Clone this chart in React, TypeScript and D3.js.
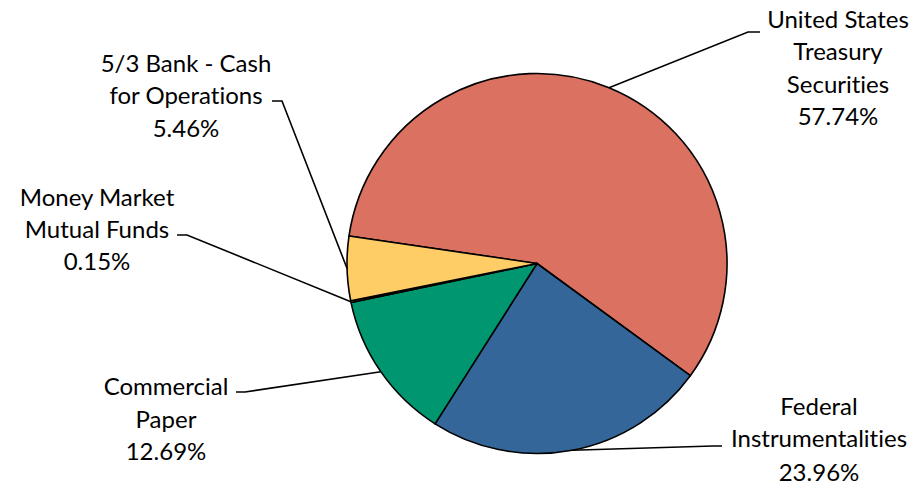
import * as d3 from "d3";
import React from "react";

// slice data, in drawing order (clockwise)
const categories = [
  "United States Treasury Securities",
  "Federal Instrumentalities",
  "Commercial Paper",
  "Money Market Mutual Funds",
  "5/3 Bank - Cash for Operations",
];
const values = [57.74, 23.96, 12.69, 0.15, 5.46];
const labelLines = [
  ["United States", "Treasury", "Securities", "57.74%"],
  ["Federal", "Instrumentalities", "23.96%"],
  ["Commercial", "Paper", "12.69%"],
  ["Money Market", "Mutual Funds", "0.15%"],
  ["5/3 Bank - Cash", "for Operations", "5.46%"],
];
const colors = ["#DA7161", "#346699", "#009670", "#E8A23A", "#FFCD66"];

// label layout (positions only)
const labelLayout = [
  { x: 838, ys: [18, 50, 83, 115], elbow: [[748, 32], [760, 32]] },
  { x: 819, ys: [405, 437, 471], elbow: [[713, 446], [722, 446]] },
  { x: 166, ys: [385, 418, 450], elbow: [[245, 392], [236, 392]] },
  { x: 97, ys: [196, 228, 260], elbow: [[187, 235], [177, 235]] },
  { x: 186, ys: [62, 94, 127], elbow: [[282, 101], [272, 101]] },
];

const W = 915;
const H = 484;
const cx = 537;
const cy = 263.5;
const R = 190;

const App: React.FC = () => {
  const toRad = (deg: number) => (deg * Math.PI) / 180;
  const startDeg = 126.2 - (values[0] / 100) * 360;

  const pie = d3
    .pie<number>()
    .sort(null)
    .value((d) => d)
    .startAngle(toRad(startDeg))
    .endAngle(toRad(startDeg + 360));
  const arcs = pie(values);

  const arc = d3.arc<d3.PieArcDatum<number>>().innerRadius(0).outerRadius(R);
  const edge = d3.arc<d3.PieArcDatum<number>>().innerRadius(R).outerRadius(R);

  return (
    <div style={{ position: "fixed", left: 0, top: 0 }}>
      <svg width={W} height={H} viewBox={`0 0 ${W} ${H}`}>
        <rect width={W} height={H} fill="#ffffff" />
        <g transform={`translate(${cx},${cy})`}>
          {arcs.map((a, i) => (
            <path
              key={categories[i]}
              d={arc(a) ?? ""}
              fill={colors[i]}
              stroke="#000"
              strokeWidth={1.6}
              strokeLinejoin="round"
            />
          ))}
        </g>
        {arcs.map((a, i) => {
          const [ex, ey] = edge.centroid(a);
          const lay = labelLayout[i];
          const pts = [[cx + ex, cy + ey], lay.elbow[0], lay.elbow[1]];
          return (
            <polyline
              key={"l" + i}
              points={pts.map((p) => p.join(",")).join(" ")}
              fill="none"
              stroke="#000"
              strokeWidth={1.6}
            />
          );
        })}
        {labelLines.map((lines, i) => (
          <text
            key={"t" + i}
            fontFamily="Lato, 'Open Sans', sans-serif"
            fontSize={24}
            fill="#000"
            textAnchor="middle"
            style={{ fontVariantLigatures: "none" }}
          >
            {lines.map((ln, j) => (
              <tspan
                key={j}
                x={labelLayout[i].x}
                y={labelLayout[i].ys[j]}
                dominantBaseline="central"
              >
                {ln}
              </tspan>
            ))}
          </text>
        ))}
      </svg>
    </div>
  );
};

export default App;
